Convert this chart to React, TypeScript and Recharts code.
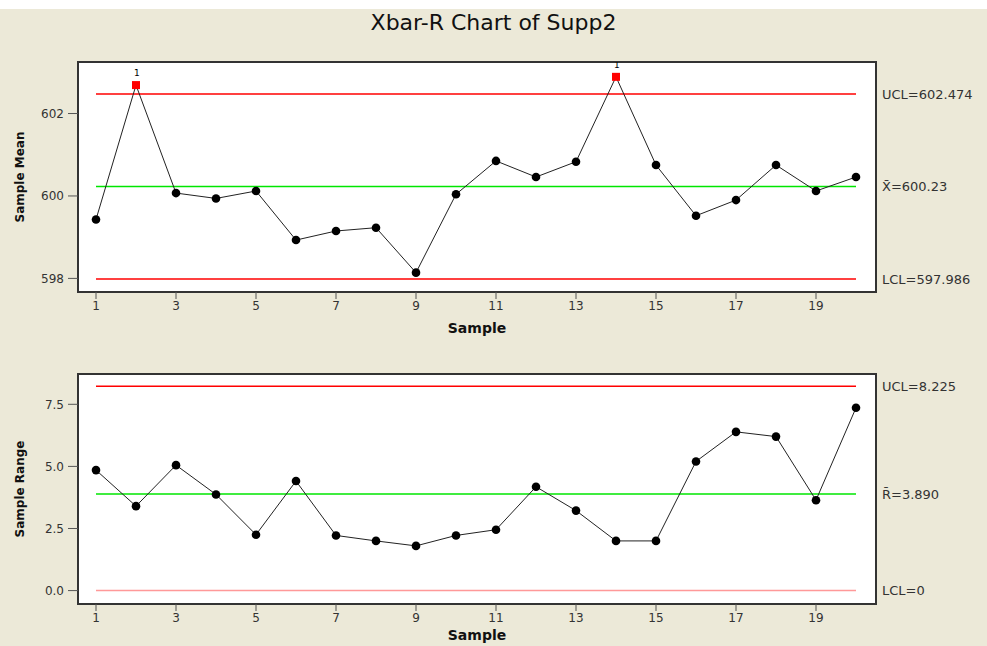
import React from "react";
import {
  LineChart,
  Line,
  XAxis,
  YAxis,
  ReferenceLine,
  ReferenceArea,
} from "recharts";

const samples = [1, 2, 3, 4, 5, 6, 7, 8, 9, 10, 11, 12, 13, 14, 15, 16, 17, 18, 19, 20];
const means = [
  599.43, 602.69, 600.07, 599.94, 600.12, 598.93, 599.15, 599.23, 598.14, 600.04,
  600.85, 600.46, 600.83, 602.89, 600.75, 599.52, 599.9, 600.75, 600.12, 600.46,
];
const ranges = [
  4.85, 3.4, 5.05, 3.87, 2.25, 4.41, 2.22, 2.0, 1.8, 2.22,
  2.45, 4.18, 3.22, 2.0, 2.0, 5.2, 6.39, 6.2, 3.64, 7.36,
];
const meanFlagged = [2, 14];
const rangeFlagged: number[] = [];

const xTicks = [1, 3, 5, 7, 9, 11, 13, 15, 17, 19];
const meanTicks = [598, 600, 602];
const rangeTicks = [0, 2.5, 5, 7.5];

const meanLimits = { ucl: 602.474, center: 600.23, lcl: 597.986 };
const rangeLimits = { ucl: 8.225, center: 3.89, lcl: 0 };

const meanData = samples.map((s, i) => ({ sample: s, value: means[i] }));
const rangeData = samples.map((s, i) => ({ sample: s, value: ranges[i] }));

const FONT = "'DejaVu Sans', Verdana, sans-serif";
const BG = "#ECE9D8";
const X_DOMAIN: [number, number] = [0.55, 20.5];

const makeDot = (flagged: number[]) => (props: any) => {
  const { cx, cy, payload, index } = props;
  if (flagged.includes(payload.sample)) {
    return (
      <g key={`d${index}`}>
        <rect x={cx - 4} y={cy - 4} width={8} height={8} fill="#FF0000" />
        <text x={cx - 2} y={cy - 9} fontSize={9} fontFamily={FONT} fill="#000">
          1
        </text>
      </g>
    );
  }
  return <circle key={`d${index}`} cx={cx} cy={cy} r={4.3} fill="#000" />;
};

const tickStyle = { fontSize: 12, fontFamily: FONT, fill: "#333" };
const limitLabel = (value: string) => ({
  value,
  position: "right" as const,
  offset: 26,
  fontSize: 13,
  fontFamily: FONT,
  fill: "#333",
});

function ControlPanel({
  data,
  flagged,
  yDomain,
  yTicks,
  yLabel,
  limits,
  labels,
  lclColor,
  height,
  top,
  tickFmt,
  sampleOffset,
}: any) {
  const axisHeight = height - top - 230;
  return (
    <LineChart
      width={987}
      height={height}
      data={data}
      margin={{ top, right: 111, left: 0, bottom: 0 }}
    >
      <ReferenceArea
        x1={X_DOMAIN[0]}
        x2={X_DOMAIN[1]}
        y1={yDomain[0]}
        y2={yDomain[1]}
        fill="#FFFFFF"
        fillOpacity={1}
        stroke="#333"
        strokeWidth={2}
      />
      <XAxis
        dataKey="sample"
        type="number"
        domain={X_DOMAIN}
        ticks={xTicks}
        allowDataOverflow
        height={axisHeight}
        tick={tickStyle}
        tickSize={7}
        stroke="#555"
        axisLine={{ stroke: "#333", strokeWidth: 2 }}
        label={{
          value: "Sample",
          position: "insideBottom",
          offset: sampleOffset,
          fontSize: 14,
          fontWeight: "bold",
          fontFamily: FONT,
          fill: "#111",
        }}
      />
      <YAxis
        type="number"
        domain={yDomain}
        ticks={yTicks}
        allowDataOverflow
        width={78}
        tick={tickStyle}
        tickSize={10}
        tickMargin={4}
        tickFormatter={tickFmt}
        stroke="#555"
        axisLine={{ stroke: "#333", strokeWidth: 2 }}
        label={{
          value: yLabel,
          angle: -90,
          position: "insideLeft",
          offset: 20,
          fontSize: 12,
          fontWeight: "bold",
          fontFamily: FONT,
          fill: "#111",
          style: { textAnchor: "middle" },
        }}
      />
      <ReferenceLine
        segment={[{ x: 1, y: limits.ucl }, { x: 20, y: limits.ucl }]}
        stroke="#FF0000"
        strokeWidth={1.5}
        label={limitLabel(labels[0])}
      />
      <ReferenceLine
        segment={[{ x: 1, y: limits.center }, { x: 20, y: limits.center }]}
        stroke="#00E600"
        strokeWidth={1.5}
        label={limitLabel(labels[1])}
      />
      <ReferenceLine
        segment={[{ x: 1, y: limits.lcl }, { x: 20, y: limits.lcl }]}
        stroke={lclColor}
        strokeWidth={1.5}
        label={limitLabel(labels[2])}
      />
      <Line
        type="linear"
        dataKey="value"
        stroke="#222"
        strokeWidth={1}
        dot={makeDot(flagged)}
        activeDot={false}
        isAnimationActive={false}
      />
    </LineChart>
  );
}

export default function App() {
  return (
    <div
      style={{
        position: "absolute",
        left: 0,
        top: 0,
        width: 987,
        height: 646,
        background: BG,
        overflow: "hidden",
      }}
    >
      <div style={{ position: "absolute", left: 0, top: 0, width: 987, height: 9, background: "#fff" }} />
      <div
        style={{
          position: "absolute",
          left: 0,
          top: 10,
          width: 987,
          textAlign: "center",
          fontFamily: FONT,
          fontSize: 22,
          color: "#111",
        }}
      >
        Xbar-R Chart of Supp2
      </div>
      <div style={{ position: "absolute", left: 0, top: 0 }}>
        <ControlPanel
          data={meanData}
          flagged={meanFlagged}
          yDomain={[597.67, 603.25]}
          yTicks={meanTicks}
          yLabel="Sample Mean"
          limits={meanLimits}
          labels={["UCL=602.474", "X\u0304=600.23", "LCL=597.986"]}
          lclColor="#FF0000"
          height={350}
          top={62}
          tickFmt={(v: number) => String(v)}
          sampleOffset={17}
        />
      </div>
      <div style={{ position: "absolute", left: 0, top: 350 }}>
        <ControlPanel
          data={rangeData}
          flagged={rangeFlagged}
          yDomain={[-0.54, 8.72]}
          yTicks={rangeTicks}
          yLabel="Sample Range"
          limits={rangeLimits}
          labels={["UCL=8.225", "R\u0304=3.890", "LCL=0"]}
          lclColor="#FF9999"
          height={296}
          top={24}
          tickFmt={(v: number) => v.toFixed(1)}
          sampleOffset={6}
        />
      </div>
    </div>
  );
}
